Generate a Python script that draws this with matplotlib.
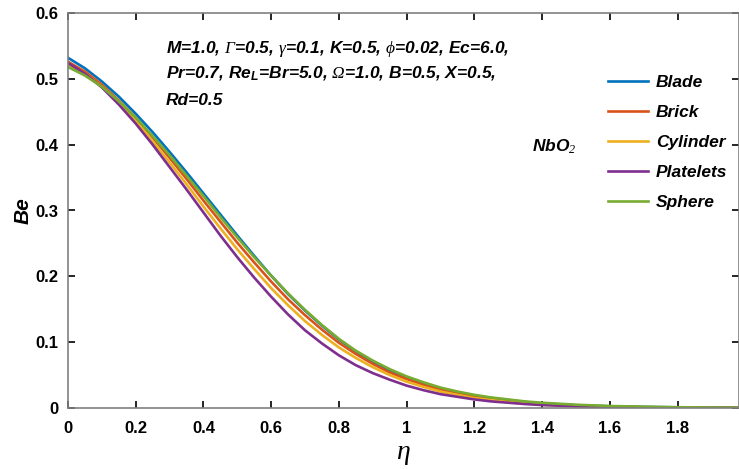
import matplotlib
matplotlib.use("Agg")
import matplotlib.pyplot as plt

plt.rcParams['font.family'] = ['Liberation Sans', 'DejaVu Sans']
plt.rcParams['mathtext.fontset'] = 'custom'
plt.rcParams['mathtext.it'] = 'Liberation Sans:italic:bold'
plt.rcParams['mathtext.rm'] = 'Liberation Serif:italic'
plt.rcParams['mathtext.bf'] = 'Liberation Sans:bold'

eta = [0.0, 0.05, 0.1, 0.15, 0.2, 0.25, 0.3, 0.35, 0.4, 0.45, 0.5, 0.55, 0.6, 0.65, 0.7,
       0.75, 0.8, 0.85, 0.9, 0.95, 1.0, 1.05, 1.1, 1.15, 1.2, 1.25, 1.3, 1.35, 1.4,
       1.5, 1.6, 1.7, 1.8, 1.9, 2.0]

blade = [0.532, 0.516, 0.496, 0.473, 0.447, 0.419, 0.389, 0.358, 0.326, 0.294, 0.262,
         0.231, 0.201, 0.173, 0.148, 0.125, 0.104, 0.086, 0.070, 0.057, 0.046, 0.037,
         0.030, 0.024, 0.019, 0.015, 0.012, 0.009, 0.007,
         0.0042, 0.0026, 0.0016, 0.0010, 0.0006, 0.0003]
brick = [0.526, 0.511, 0.491, 0.467, 0.441, 0.411, 0.380, 0.348, 0.315, 0.283, 0.251,
         0.221, 0.192, 0.165, 0.141, 0.119, 0.099, 0.082, 0.067, 0.054, 0.044, 0.035,
         0.028, 0.022, 0.017, 0.013, 0.010, 0.008, 0.006,
         0.0035, 0.0020, 0.0012, 0.0007, 0.0004, 0.0002]
cylinder = [0.522, 0.508, 0.488, 0.464, 0.436, 0.405, 0.373, 0.340, 0.306, 0.273, 0.241,
            0.211, 0.182, 0.156, 0.132, 0.111, 0.092, 0.076, 0.062, 0.050, 0.040, 0.032,
            0.025, 0.020, 0.015, 0.012, 0.009, 0.007, 0.005,
            0.0030, 0.0018, 0.0010, 0.0006, 0.0003, 0.0002]
platelets = [0.524, 0.508, 0.487, 0.461, 0.432, 0.400, 0.366, 0.332, 0.297, 0.262, 0.229,
             0.198, 0.169, 0.142, 0.118, 0.098, 0.080, 0.065, 0.053, 0.043, 0.034, 0.027,
             0.021, 0.017, 0.013, 0.010, 0.008, 0.006, 0.0045,
             0.0025, 0.0015, 0.0010, 0.0005, 0.0003, 0.0002]
sphere = [0.518, 0.505, 0.488, 0.466, 0.441, 0.413, 0.384, 0.353, 0.322, 0.290, 0.259,
          0.229, 0.201, 0.174, 0.149, 0.126, 0.105, 0.087, 0.072, 0.059, 0.048, 0.039,
          0.031, 0.025, 0.020, 0.016, 0.013, 0.010, 0.008,
          0.0050, 0.0030, 0.0020, 0.0012, 0.0007, 0.0004]

labels = ['Blade', 'Brick', 'Cylinder', 'Platelets', 'Sphere']
colors = ['#0072BD', '#D95319', '#EDB120', '#7E2F8E', '#77AC30']
series = [blade, brick, cylinder, platelets, sphere]

xticks = [0, 0.2, 0.4, 0.6, 0.8, 1, 1.2, 1.4, 1.6, 1.8]
xticklabels = ['0', '0.2', '0.4', '0.6', '0.8', '1', '1.2', '1.4', '1.6', '1.8']
yticks = [0, 0.1, 0.2, 0.3, 0.4, 0.5, 0.6]
yticklabels = ['0', '0.1', '0.2', '0.3', '0.4', '0.5', '0.6']

W, H = 739, 469
fig = plt.figure(figsize=(W / 100, H / 100), dpi=100)
ax_l, ax_r, ax_t, ax_b = 68, 738.5, 13, 408
ax = fig.add_axes([ax_l / W, 1 - ax_b / H, (ax_r - ax_l) / W, (ax_b - ax_t) / H])

for y, lab, c in zip(series, labels, colors):
    ax.plot(eta, y, color=c, lw=1.9, label=lab, solid_joinstyle='round')

ax.set_xlim(0, 1.98)
ax.set_ylim(0, 0.6)
ax.set_xticks(xticks)
ax.set_xticklabels(xticklabels)
ax.set_yticks(yticks)
ax.set_yticklabels(yticklabels)
ax.tick_params(direction='in', length=5, width=1.2, top=True, right=True,
               labelsize=12, color='black')
ax.tick_params(axis='x', pad=9)
ax.tick_params(axis='y', pad=7)
for lbl in ax.get_xticklabels() + ax.get_yticklabels():
    lbl.set_fontweight('bold')
for s in ax.spines.values():
    s.set_color('#808080')
    s.set_linewidth(1.2)

ax.set_xlabel(r'$\mathrm{\eta}$', fontsize=20, labelpad=4)
ax.set_ylabel('Be', fontsize=15, fontweight='bold', fontstyle='italic', labelpad=2)

fx = lambda px: (px - ax_l) / (ax_r - ax_l)
fy = lambda py: (ax_b - py) / (ax_b - ax_t)
leg = ax.legend(loc='upper left', bbox_to_anchor=(fx(608), fy(75)),
                frameon=False, borderpad=0, borderaxespad=0,
                handlelength=2.3, handletextpad=0.45, labelspacing=0.86,
                prop={'family': 'Liberation Sans', 'weight': 'bold', 'style': 'italic', 'size': 12.5})

txt_kw = dict(fontsize=12.5, fontweight='bold', fontstyle='italic', transform=fig.transFigure,
              va='baseline', ha='left')
fig.text(166 / W, 1 - 53 / H,
         r'M=1.0, $\mathrm{\Gamma}$=0.5, $\mathrm{\gamma}$=0.1, K=0.5, $\mathrm{\phi}$=0.02, Ec=6.0,', **txt_kw)
fig.text(166 / W, 1 - 78 / H,
         r'Pr=0.7, Re$_{L}$=Br=5.0, $\mathrm{\Omega}$=1.0, B=0.5, X=0.5,', **txt_kw)
fig.text(166 / W, 1 - 105 / H, 'Rd=0.5', **txt_kw)
fig.text(532 / W, 1 - 151 / H, r'NbO$_{\mathit{2}}$', **txt_kw)

fig.savefig('out.png', dpi=100)
